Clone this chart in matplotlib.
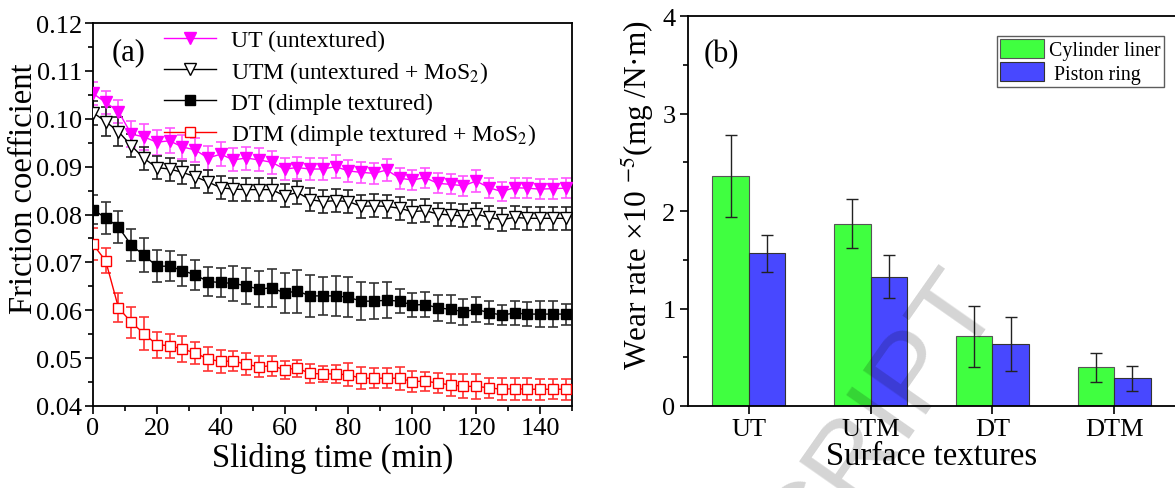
import numpy as np
import matplotlib
matplotlib.use("Agg")
import matplotlib.pyplot as plt
from matplotlib.ticker import MultipleLocator

plt.rcParams['font.family'] = ['Liberation Serif', 'DejaVu Serif']
plt.rcParams['mathtext.fontset'] = 'stix'

# ---------------- data: panel (a) ----------------
time_min = list(range(0, 149, 4))

ut = [0.1053, 0.1034, 0.1015, 0.0968, 0.0962, 0.0951, 0.0954, 0.0941, 0.0935, 0.0918,
      0.0926, 0.0914, 0.0918, 0.0914, 0.0909, 0.0895, 0.0898, 0.0895, 0.0895, 0.0900,
      0.0891, 0.0888, 0.0886, 0.0893, 0.0876, 0.0872, 0.0877, 0.0865, 0.0863, 0.0860,
      0.0870, 0.0856, 0.0848, 0.0856, 0.0855, 0.0853, 0.0854, 0.0855]
ut_err = [0.0024, 0.0024, 0.0024, 0.0028, 0.0028, 0.0026, 0.0026, 0.0025, 0.0025, 0.0026,
          0.0025, 0.0024, 0.0024, 0.0024, 0.0024, 0.0023, 0.0023, 0.0023, 0.0023, 0.0024,
          0.0023, 0.0022, 0.0022, 0.0022, 0.0022, 0.0021, 0.0021, 0.0021, 0.0021, 0.0021,
          0.0022, 0.0021, 0.0020, 0.0021, 0.0021, 0.0021, 0.0021, 0.0021]

utm = [0.1013, 0.0994, 0.0973, 0.0944, 0.0917, 0.0898, 0.0895, 0.0888, 0.0879, 0.0868,
       0.0856, 0.0853, 0.0852, 0.0852, 0.0852, 0.0839, 0.0846, 0.0831, 0.0827, 0.0829,
       0.0827, 0.0817, 0.0818, 0.0817, 0.0813, 0.0806, 0.0808, 0.0801, 0.0799, 0.0797,
       0.0801, 0.0794, 0.0789, 0.0794, 0.0792, 0.0792, 0.0792, 0.0792]
utm_err = [0.0025, 0.0030, 0.0030, 0.0024, 0.0024, 0.0024, 0.0024, 0.0024, 0.0024, 0.0024,
           0.0024, 0.0024, 0.0024, 0.0024, 0.0024, 0.0024, 0.0024, 0.0024, 0.0024, 0.0024,
           0.0024, 0.0024, 0.0024, 0.0024, 0.0024, 0.0024, 0.0024, 0.0024, 0.0024, 0.0024,
           0.0024, 0.0024, 0.0024, 0.0024, 0.0024, 0.0024, 0.0024, 0.0024]

dt = [0.0810, 0.0793, 0.0774, 0.0736, 0.0715, 0.0692, 0.0692, 0.0683, 0.0674, 0.0660,
      0.0658, 0.0656, 0.0651, 0.0644, 0.0647, 0.0636, 0.0640, 0.0630, 0.0630, 0.0630,
      0.0627, 0.0619, 0.0619, 0.0621, 0.0619, 0.0611, 0.0612, 0.0605, 0.0602, 0.0597,
      0.0602, 0.0595, 0.0590, 0.0594, 0.0592, 0.0592, 0.0592, 0.0592]
dt_err = [0.0030, 0.0033, 0.0033, 0.0034, 0.0035, 0.0034, 0.0031, 0.0032, 0.0032, 0.0030,
          0.0030, 0.0037, 0.0037, 0.0038, 0.0040, 0.0041, 0.0045, 0.0044, 0.0040, 0.0041,
          0.0042, 0.0039, 0.0037, 0.0038, 0.0025, 0.0026, 0.0026, 0.0027, 0.0029, 0.0027,
          0.0026, 0.0024, 0.0021, 0.0025, 0.0025, 0.0027, 0.0028, 0.0022]

dtm = [0.0738, 0.0703, 0.0605, 0.0575, 0.0551, 0.0528, 0.0526, 0.0519, 0.0511, 0.0498,
       0.0493, 0.0494, 0.0487, 0.0482, 0.0484, 0.0476, 0.0479, 0.0468, 0.0467, 0.0467,
       0.0465, 0.0458, 0.0458, 0.0458, 0.0458, 0.0451, 0.0452, 0.0448, 0.0444, 0.0441,
       0.0441, 0.0438, 0.0435, 0.0436, 0.0435, 0.0435, 0.0435, 0.0435]
dtm_err = [0.0034, 0.0026, 0.0030, 0.0032, 0.0034, 0.0027, 0.0025, 0.0028, 0.0023, 0.0025,
           0.0025, 0.0021, 0.0023, 0.0022, 0.0021, 0.0019, 0.0018, 0.0019, 0.0017, 0.0019,
           0.0024, 0.0023, 0.0021, 0.0021, 0.0024, 0.0022, 0.0020, 0.0021, 0.0023, 0.0025,
           0.0026, 0.0021, 0.0023, 0.0023, 0.0023, 0.0022, 0.0021, 0.0022]

# ---------------- data: panel (b) ----------------
textures = ['UT', 'UTM', 'DT', 'DTM']
liner = [2.36, 1.87, 0.715, 0.395]
liner_err = [0.42, 0.25, 0.31, 0.145]
ring = [1.565, 1.326, 0.636, 0.285]
ring_err = [0.19, 0.22, 0.28, 0.13]

fig = plt.figure(figsize=(11.75, 4.89), dpi=100)

# ---------------- panel (a) ----------------
ax = fig.add_axes([0.0791, 0.1677, 0.4077, 0.7832])
series = [
    (ut, ut_err, 'UT (untextured)', dict(color='#FF00FF', marker='v', mfc='#FF00FF', mec='#FF00FF', ms=9), '#FF55FF'),
    (utm, utm_err, 'UTM (untextured + MoS$_2$)', dict(color='black', marker='v', mfc='white', mec='black', ms=9), '#222222'),
    (dt, dt_err, 'DT (dimple textured)', dict(color='black', marker='s', mfc='black', mec='black', ms=7), '#333333'),
    (dtm, dtm_err, 'DTM (dimple textured + MoS$_2$)', dict(color='#FF0000', marker='s', mfc='white', mec='#FF0000', ms=7.5), '#FF3333'),
]
handles = []
for y, e, lab, st, ecol in series:
    ax.errorbar(time_min, y, yerr=e, fmt='none', ecolor=ecol, elinewidth=1.2, capsize=3.5, capthick=1.2, zorder=2)
    h, = ax.plot(time_min, y, lw=1.0, label=lab, zorder=3, mew=1.0, **st)
    handles.append(h)

ax.set_xlim(0, 150)
ax.set_ylim(0.04, 0.12)
ax.xaxis.set_major_locator(MultipleLocator(20))
ax.xaxis.set_minor_locator(MultipleLocator(10))
ax.yaxis.set_major_locator(MultipleLocator(0.01))
ax.yaxis.set_minor_locator(MultipleLocator(0.005))
ax.yaxis.set_major_formatter(matplotlib.ticker.FormatStrFormatter('%.2f'))
ax.tick_params(which='both', direction='out', top=False, right=False, labelsize=19, width=1.2, pad=2)
ax.tick_params(which='major', length=6)
ax.tick_params(which='minor', length=3.5)
for s in ax.spines.values():
    s.set_linewidth(1.3)
ax.set_xlabel('Sliding time (min)', fontsize=23.5, labelpad=2)
ax.set_ylabel('Friction coefficient', fontsize=23.5)
ax.yaxis.set_label_coords(-0.113, 0.569)
ax.text(0.038, 0.905, '(a)', transform=ax.transAxes, fontsize=22)
leg = ax.legend(handles=handles, loc='upper left', bbox_to_anchor=(0.118, 1.02), frameon=False,
                fontsize=17, handlelength=2.2, handletextpad=0.65, labelspacing=0.32,
                borderaxespad=0.2)

# ---------------- panel (b) ----------------
bx = fig.add_axes([0.5855, 0.1677, 0.4145, 0.7975])
xpos = np.arange(1, len(textures) + 1)
w = 0.3
bx.bar(xpos - w / 2, liner, width=w, color='#40FF40', edgecolor='#555555', linewidth=0.8,
       yerr=liner_err, error_kw=dict(ecolor='#222222', elinewidth=1.0, capsize=4, capthick=1.0),
       label='Cylinder liner', zorder=2)
bx.bar(xpos + w / 2, ring, width=w, color='#4848FF', edgecolor='#333333', linewidth=0.8,
       yerr=ring_err, error_kw=dict(ecolor='#222222', elinewidth=1.0, capsize=4, capthick=1.0),
       label=' Piston ring', zorder=2)
bx.set_xlim(0.5, 4.5)
bx.set_ylim(0, 4)
bx.set_xticks(xpos)
bx.set_xticklabels(textures)
bx.yaxis.set_major_locator(MultipleLocator(1))
bx.yaxis.set_minor_locator(MultipleLocator(0.5))
bx.tick_params(which='both', direction='out', top=False, right=False, labelsize=19, width=1.2, pad=3)
bx.tick_params(which='major', length=6)
bx.tick_params(which='minor', length=3.5)
bx.tick_params(axis='x', which='minor', bottom=False)
for s in bx.spines.values():
    s.set_linewidth(1.3)
bx.spines['right'].set_visible(False)
bx.set_xlabel('Surface textures', fontsize=23.5, labelpad=0)
bx.set_ylabel('Wear rate ×10 $^{-5}$(mg /N·m)', fontsize=22.5)
bx.yaxis.set_label_coords(-0.066, 0.544)
bx.text(0.032, 0.885, '(b)', transform=bx.transAxes, fontsize=22)
bleg = bx.legend(loc='upper right', bbox_to_anchor=(0.985, 0.96), fontsize=14.3, frameon=True,
                 fancybox=False, edgecolor='#333333', handlelength=2.2, handleheight=1.1,
                 handletextpad=0.25, labelspacing=0.12, borderpad=0.15, borderaxespad=0.2)
bleg.get_frame().set_linewidth(1.0)

# faint watermark (part of "MANUSCRIPT")
fig.text(0.75, 0.14, 'CRIPT', fontsize=80, color='black', alpha=0.17, rotation=55,
         ha='center', va='center', family='Liberation Sans', zorder=5)

fig.savefig('out.png', dpi=100)
